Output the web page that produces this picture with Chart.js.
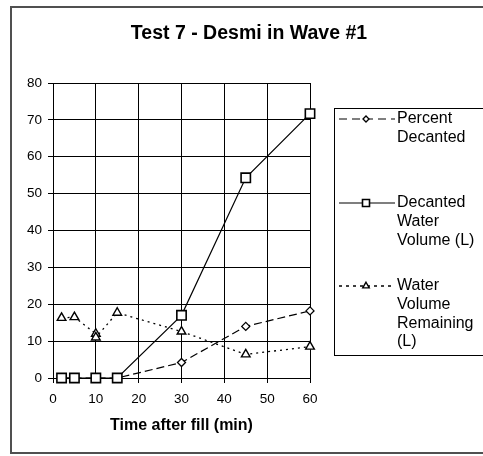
<!DOCTYPE html>
<html>
<head>
<meta charset="utf-8">
<script src="https://cdn.jsdelivr.net/npm/chart.js@4/dist/chart.umd.min.js"></script>
<style>
  body { margin: 0; background: #fff; }
  canvas { display: block; }
</style>
</head>
<body>
<canvas id="grafico" width="483" height="456"></canvas>
<script>
// valores
const timeMin = [2, 5, 10, 15, 30, 45, 60];
const percentDecanted = [0, 0, 0, 0, 4.2, 14, 18.2];
const decantedVolume = [0, 0, 0, 0, 17, 54.3, 71.7];
const remainingTime = [2, 5, 10, 10, 15, 30, 45, 60];
const remainingVolume = [16.3, 16.5, 12, 11, 17.7, 12.6, 6.4, 8.5];

const chartTitle = 'Test 7 - Desmi in Wave #1';
const seriesNames = ['Percent Decanted', 'Decanted Water Volume (L)', 'Water Volume Remaining (L)'];
const legendLines = [
    ['Percent', 'Decanted'],
    ['Decanted', 'Water', 'Volume (L)'],
    ['Water', 'Volume', 'Remaining', '(L)']
];
const xTicks = [0, 10, 20, 30, 40, 50, 60];
const yTicks = [0, 10, 20, 30, 40, 50, 60, 70, 80];

const FONT = "'Liberation Sans', Arial, sans-serif";

function pontos(xs, ys) {
    return xs.map((x, i) => ({ x: x, y: ys[i] }));
}

// moldura externa, título e legenda desenhados à mão
const molduraLegenda = {
    id: 'molduraLegenda',
    beforeDraw(chart) {
        const ctx = chart.ctx;
        ctx.save();
        ctx.fillStyle = '#fff';
        ctx.fillRect(0, 0, chart.width, chart.height);
        ctx.strokeStyle = '#505050';
        ctx.lineWidth = 2;
        ctx.strokeRect(11, 7, 490, 446);
        // título centrado na moldura
        ctx.fillStyle = '#000';
        ctx.font = 'bold 19.5px ' + FONT;
        ctx.textAlign = 'center';
        ctx.textBaseline = 'middle';
        ctx.fillText(chartTitle, 249, 33.5);
        ctx.restore();
    },
    afterDraw(chart) {
        const ctx = chart.ctx;
        const topos = [119, 203, 286];
        ctx.save();
        ctx.strokeStyle = '#000';
        ctx.lineWidth = 1;
        ctx.strokeRect(334.5, 108.5, 200, 247);
        legendLines.forEach((linhas, i) => {
            const ds = chart.data.datasets[i];
            const y = topos[i];
            ctx.beginPath();
            ctx.setLineDash(ds.legendDash || []);
            ctx.lineWidth = ds.borderWidth;
            ctx.strokeStyle = '#000';
            ctx.moveTo(339, y);
            ctx.lineTo(395, y);
            ctx.stroke();
            ctx.setLineDash([]);
            ctx.fillStyle = '#fff';
            ctx.lineWidth = ds.pointBorderWidth;
            Chart.helpers.drawPoint(ctx, {
                pointStyle: ds.pointStyle,
                radius: ds.pointRadius * 0.75,
                borderWidth: ds.pointBorderWidth,
                rotation: 0
            }, 366, y);
            ctx.fillStyle = '#000';
            ctx.font = '16px ' + FONT;
            ctx.textBaseline = 'middle';
            ctx.textAlign = 'left';
            linhas.forEach((t, k) => ctx.fillText(t, 397, y + k * 18.6));
        });
        ctx.restore();
    }
};

const ctx = document.getElementById('grafico').getContext('2d');

new Chart(ctx, {
    type: 'scatter',
    data: {
        datasets: [{
            label: seriesNames[0],
            data: pontos(timeMin, percentDecanted),
            showLine: true,
            borderColor: '#000',
            borderWidth: 1.2,
            borderDash: [8, 4],
            legendDash: [8, 5],
            pointStyle: 'rectRot',
            pointRadius: 4,
            pointBorderWidth: 1.3,
            pointBackgroundColor: '#fff',
            pointBorderColor: '#000',
            order: 1
        }, {
            label: seriesNames[1],
            data: pontos(timeMin, decantedVolume),
            showLine: true,
            borderColor: '#000',
            borderWidth: 1.2,
            pointStyle: 'rect',
            pointRadius: 6.6,
            pointBorderWidth: 1.6,
            pointBackgroundColor: '#fff',
            pointBorderColor: '#000',
            order: 0
        }, {
            label: seriesNames[2],
            data: pontos(remainingTime, remainingVolume),
            showLine: true,
            borderColor: '#000',
            borderWidth: 1.3,
            borderDash: [2, 4],
            legendDash: [3, 4],
            pointStyle: 'triangle',
            pointRadius: 5,
            pointBorderWidth: 1.4,
            pointBackgroundColor: '#fff',
            pointBorderColor: '#000',
            order: 2
        }]
    },
    options: {
        responsive: false,
        animation: false,
        clip: false,
        layout: { padding: { top: 83, left: 12, right: 173, bottom: 20 } },
        plugins: {
            legend: { display: false },
            tooltip: { enabled: false },
            title: { display: false }
        },
        scales: {
            x: {
                type: 'linear',
                min: 0,
                max: 60,
                afterBuildTicks: s => { s.ticks = xTicks.map(v => ({ value: v })); },
                afterFit: s => { s.height = 58; },
                grid: { color: '#000', lineWidth: 1, tickLength: 5, tickColor: '#000' },
                border: { color: '#000', width: 1 },
                ticks: { color: '#000', font: { family: FONT, size: 13.5 }, padding: 8, maxRotation: 0 },
                title: {
                    display: true,
                    text: 'Time after fill (min)',
                    color: '#000',
                    font: { family: FONT, size: 16, weight: 'bold' },
                    padding: { top: 0, bottom: 1 }
                }
            },
            y: {
                min: 0,
                max: 80,
                afterBuildTicks: s => { s.ticks = yTicks.map(v => ({ value: v })); },
                afterFit: s => { s.width = 41; },
                grid: { color: '#000', lineWidth: 1, tickLength: 5, tickColor: '#000' },
                border: { color: '#000', width: 1 },
                ticks: { color: '#000', font: { family: FONT, size: 13.5 }, padding: 6 }
            }
        }
    },
    plugins: [molduraLegenda]
});
</script>
</body>
</html>
